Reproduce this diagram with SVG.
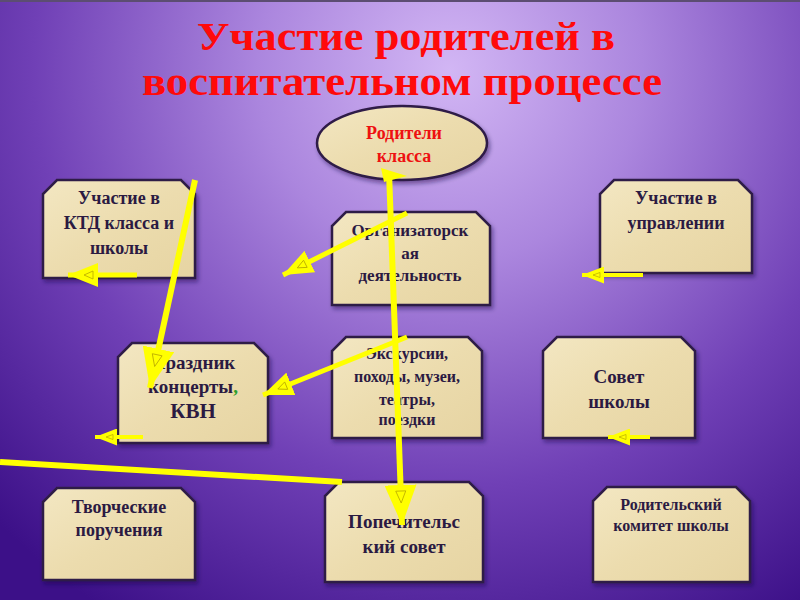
<svg xmlns="http://www.w3.org/2000/svg" width="800" height="600" viewBox="0 0 800 600">
<defs>
<radialGradient id="bg" gradientUnits="userSpaceOnUse" cx="450" cy="70" r="640">
<stop offset="0" stop-color="#d2b6f4"/>
<stop offset="0.3" stop-color="#ab86de"/>
<stop offset="0.65" stop-color="#7040b6"/>
<stop offset="1" stop-color="#3c1088"/>
</radialGradient>
<linearGradient id="paper" x1="0" y1="0" x2="1" y2="1">
<stop offset="0" stop-color="#f3e7c2"/>
<stop offset="0.5" stop-color="#ecdcae"/>
<stop offset="1" stop-color="#e6d4a2"/>
</linearGradient>
<filter id="sh" x="-10%" y="-10%" width="130%" height="130%">
<feDropShadow dx="2" dy="3" stdDeviation="2" flood-color="#1a0540" flood-opacity="0.45"/>
</filter>
<marker id="big" markerUnits="userSpaceOnUse" markerWidth="40" markerHeight="32" refX="40" refY="16" orient="auto" viewBox="0 0 40 32">
<path d="M0,0 L40,16 L0,32 Z" fill="#ffff00"/>
<path d="M6,11 L18,16 L6,21 Z" fill="none" stroke="#b8a800" stroke-width="0.8"/>
</marker>
<marker id="mid" markerUnits="userSpaceOnUse" markerWidth="30" markerHeight="24" refX="30" refY="12" orient="auto" viewBox="0 0 30 24">
<path d="M0,0 L30,12 L0,24 Z" fill="#ffff00"/>
<path d="M5,8 L14,12 L5,16 Z" fill="none" stroke="#b8a800" stroke-width="0.8"/>
</marker>
<marker id="sm" markerUnits="userSpaceOnUse" markerWidth="22" markerHeight="17" refX="22" refY="8.5" orient="auto" viewBox="0 0 22 17">
<path d="M0,0 L22,8.5 L0,17 Z" fill="#ffff00"/>
<path d="M4,6 L11,8.5 L4,11 Z" fill="none" stroke="#b8a800" stroke-width="0.7"/>
</marker>
</defs>
<style>
.box{fill:url(#paper);stroke:#2e1a46;stroke-width:2.5;filter:url(#sh)}
.t{font-family:"Liberation Serif","DejaVu Serif",serif;font-weight:bold;fill:#2b1a42;text-anchor:middle}
.title{font-family:"Liberation Serif","DejaVu Serif",serif;font-weight:bold;fill:#ff0a0a;text-anchor:middle;font-size:41px}
.red{fill:#ee1111}
.c{stroke:#ffff00;fill:none;stroke-linecap:butt}
</style>
<rect x="0" y="0" width="800" height="600" fill="url(#bg)"/>
<rect x="0" y="0" width="800" height="2" fill="#5c4d72"/>

<g id="title">
<text class="title" x="406" y="50" textLength="418" lengthAdjust="spacingAndGlyphs">Участие  родителей в</text>
<text class="title" x="402" y="95" textLength="520" lengthAdjust="spacingAndGlyphs">воспитательном  процессе</text>
</g>

<g id="n-parents">
<ellipse cx="402" cy="143" rx="85" ry="37" fill="url(#paper)" stroke="#2e1a46" stroke-width="2.5" filter="url(#sh)"/>
<text class="t red" x="404" y="139" font-size="18">Родители</text>
<text class="t red" x="404" y="162" font-size="18">класса</text>
</g>

<g id="n-ktd">
<path class="box" d="M57,180 L181,180 L195,194 L195,278 L43,278 L43,194 Z"/>
<text class="t" x="119" y="204" font-size="18">Участие в</text>
<text class="t" x="119" y="229" font-size="18">КТД класса и</text>
<text class="t" x="119" y="254" font-size="18">школы</text>
</g>

<g id="n-org">
<path class="box" d="M346,212 L476,212 L490,226 L490,305 L332,305 L332,226 Z"/>
<text class="t" x="410" y="236" font-size="17">Организаторск</text>
<text class="t" x="410" y="259" font-size="17">ая</text>
<text class="t" x="410" y="281" font-size="17">деятельность</text>
</g>

<g id="n-upr">
<path class="box" d="M614,180 L738,180 L752,194 L752,273 L600,273 L600,194 Z"/>
<text class="t" x="676" y="204" font-size="18">Участие  в</text>
<text class="t" x="676" y="229" font-size="18">управлении</text>
</g>

<g id="n-prazd">
<path class="box" d="M132,343 L254,343 L268,357 L268,443 L118,443 L118,357 Z"/>
<text class="t" x="193" y="369" font-size="19">Праздник</text>
<text class="t" x="193" y="393" font-size="19">концерты<tspan fill="#2aa02a">,</tspan></text>
<text class="t" x="193" y="418" font-size="21">КВН</text>
</g>

<g id="n-exc">
<path class="box" d="M346,337 L468,337 L482,351 L482,438 L332,438 L332,351 Z"/>
<text class="t" x="407" y="359" font-size="16">Экскурсии,</text>
<text class="t" x="407" y="382" font-size="16">походы, музеи,</text>
<text class="t" x="407" y="405" font-size="16">театры,</text>
<text class="t" x="407" y="425" font-size="16">поездки</text>
</g>

<g id="n-sovet">
<path class="box" d="M557,337 L681,337 L695,351 L695,438 L543,438 L543,351 Z"/>
<text class="t" x="619" y="383" font-size="19">Совет</text>
<text class="t" x="619" y="408" font-size="19">школы</text>
</g>

<g id="n-tvor">
<path class="box" d="M57,488 L181,488 L195,502 L195,580 L43,580 L43,502 Z"/>
<text class="t" x="119" y="513" font-size="18">Творческие</text>
<text class="t" x="119" y="536" font-size="18">поручения</text>
</g>

<g id="n-popech">
<path class="box" d="M339,482 L469,482 L483,496 L483,582 L325,582 L325,496 Z"/>
<text class="t" x="404" y="528" font-size="19">Попечительс</text>
<text class="t" x="404" y="553" font-size="19">кий  совет</text>
</g>

<g id="n-rodkom">
<path class="box" d="M607,487 L736,487 L750,501 L750,582 L593,582 L593,501 Z"/>
<text class="t" x="671" y="510" font-size="16">Родительский</text>
<text class="t" x="671" y="531" font-size="16">комитет школы</text>
</g>

<g id="connectors">
<line class="c" x1="195" y1="180" x2="150" y2="388" stroke-width="6" marker-end="url(#big)"/>
<line class="c" x1="389" y1="172" x2="402" y2="525" stroke-width="6" marker-end="url(#big)"/>
<polygon points="381,168 407,176 384,182" fill="#ffff00"/>
<line class="c" x1="407" y1="213" x2="283" y2="275" stroke-width="5" marker-end="url(#mid)"/>
<line class="c" x1="407" y1="337" x2="263" y2="395" stroke-width="5" marker-end="url(#mid)"/>
<line class="c" x1="137" y1="275" x2="68" y2="275" stroke-width="5" marker-end="url(#mid)"/>
<line class="c" x1="643" y1="275" x2="582" y2="275" stroke-width="4" marker-end="url(#sm)"/>
<line class="c" x1="143" y1="437" x2="95" y2="437" stroke-width="4" marker-end="url(#sm)"/>
<line class="c" x1="650" y1="437" x2="608" y2="437" stroke-width="4" marker-end="url(#sm)"/>
<line class="c" x1="0" y1="462" x2="342" y2="482" stroke-width="6"/>
</g>
</svg>
